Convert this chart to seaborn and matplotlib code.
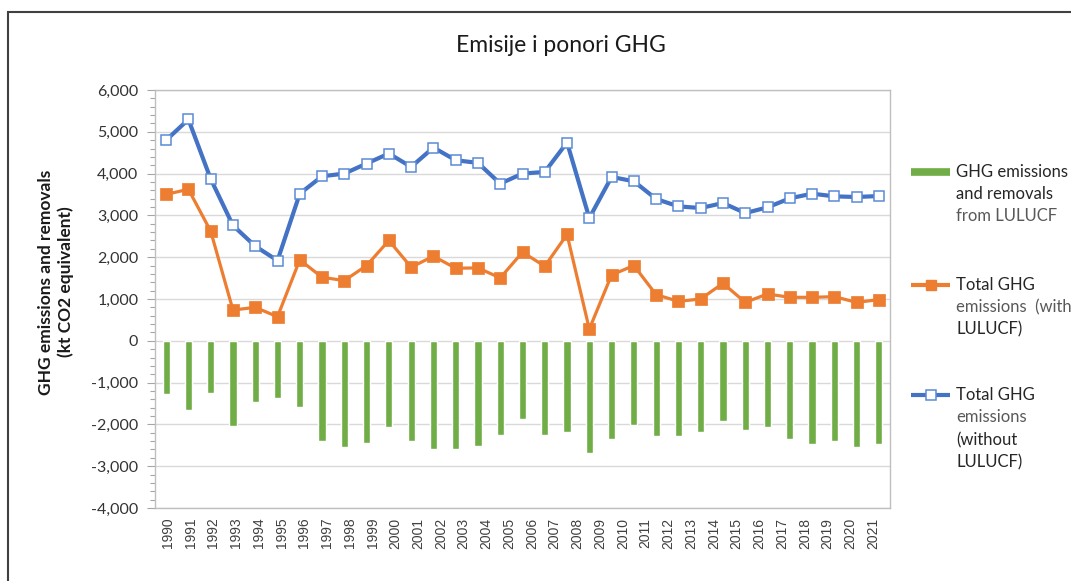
import numpy as np
import pandas as pd
import matplotlib
matplotlib.use("Agg")
import matplotlib.pyplot as plt
import seaborn as sns
from matplotlib.ticker import FuncFormatter, MultipleLocator, AutoMinorLocator
from matplotlib.lines import Line2D
from matplotlib.patches import Rectangle

years = [str(y) for y in range(1990, 2023)]
lulucf = [-1280, -1664, -1256, -2032, -1472, -1360, -1592, -2400, -2552, -2440,
          -2072, -2408, -2600, -2600, -2520, -2256, -1872, -2248, -2192, -2680,
          -2352, -2008, -2280, -2280, -2176, -1928, -2136, -2072, -2352, -2480,
          -2400, -2544, -2472]
total_with = [3504, 3624, 2624, 736, 800, 576, 1936, 1520, 1440, 1800,
              2400, 1760, 2024, 1736, 1744, 1504, 2120, 1784, 2544, 280,
              1576, 1800, 1104, 944, 1000, 1376, 920, 1120, 1040, 1040,
              1056, 920, 984]
total_without = [4800, 5296, 3872, 2760, 2264, 1920, 3520, 3936, 4000, 4240,
                 4480, 4160, 4624, 4320, 4256, 3760, 4000, 4040, 4744, 2936,
                 3920, 3816, 3392, 3216, 3176, 3296, 3056, 3192, 3408, 3520,
                 3456, 3440, 3464]
tick_labels = years[:-1]   # the 2022 label is cut off in the original

title = "Emisije i ponori GHG"
ylabel = "GHG emissions and removals\n(kt CO2 equivalent)"

GREEN = "#70AD47"
ORANGE = "#ED7D31"
BLUE = "#4472C4"

sns.set_theme(style="white")
plt.rcParams['font.family'] = ['Lato', 'DejaVu Sans']

W, H = 1071, 581
fig = plt.figure(figsize=(W / 100, H / 100), dpi=100)
ax = fig.add_axes([155 / W, 1 - 508 / H, (890 - 155) / W, (508 - 90) / H])

df = pd.DataFrame({"year": years, "lulucf": lulucf,
                   "with": total_with, "without": total_without})

sns.barplot(data=df, x="year", y="lulucf", color=GREEN, saturation=1,
            width=0.32, ax=ax, zorder=2)
sns.pointplot(data=df, x="year", y="with", color=ORANGE, markers="s",
              errorbar=None, ax=ax, linewidth=2.3, markersize=8,
              markeredgecolor=ORANGE, markeredgewidth=0.5, zorder=4)
sns.pointplot(data=df, x="year", y="without", color=BLUE, markers="s",
              errorbar=None, ax=ax, linewidth=3.0, markersize=7.2,
              markerfacecolor="white", markeredgecolor="#5B8BD6",
              markeredgewidth=1.1, zorder=5)

ax.set_ylim(-4000, 6000)
ax.set_xlim(-0.5, len(years) - 0.5)
ax.yaxis.set_major_locator(MultipleLocator(1000))
ax.yaxis.set_minor_locator(AutoMinorLocator(5))
ax.yaxis.set_major_formatter(FuncFormatter(lambda v, p: f"{v:,.0f}"))
ax.grid(axis="y", which="major", color="#D9D9D9", linewidth=1.0, zorder=0)
ax.set_axisbelow(True)
for s in ax.spines.values():
    s.set_color("#BFBFBF")
    s.set_linewidth(1.0)
ax.tick_params(axis="y", which="major", left=True, length=6, width=0.8,
               color="#A6A6A6", pad=6, labelsize=11.5, labelcolor="#333333")
ax.tick_params(axis="y", which="minor", left=True, length=3.5, width=0.8,
               color="#A6A6A6")
ax.tick_params(axis="x", length=0, pad=7)
# the original's category labels are spread slightly wider than its bars
ax.set_xticks(np.linspace(0.08, 31.74, len(tick_labels)))
ax.set_xticklabels(tick_labels, rotation=90, fontsize=10,
                   family="Liberation Sans", color="#404040")
ax.set_xlabel("")
ax.set_ylabel("")

fig.text(56 / W, 1 - 282 / H, ylabel, rotation=90, ha="center", va="center",
         fontsize=12.5, fontweight="bold", color="#1a1a1a", linespacing=1.2)
fig.text(561 / W, 1 - 46 / H, title, ha="center", va="center",
         fontsize=16.5, color="#1a1a1a")

# figure frame
fig.add_artist(Rectangle((8 / W, -0.2), 1.5, 1 - 12 / H + 0.2,
                         transform=fig.transFigure, fill=False,
                         edgecolor="#404040", linewidth=1.5))

# legend (manual)
def key(y, line_color, marker=None, lw=3, **kw):
    fig.add_artist(Line2D([911 / W, 950 / W], [1 - y / H, 1 - y / H],
                          transform=fig.transFigure, color=line_color, lw=lw,
                          solid_capstyle="butt"))
    if marker:
        fig.add_artist(Line2D([930.5 / W], [1 - y / H], transform=fig.transFigure,
                              marker=marker, linestyle="none", **kw))

key(172, GREEN, lw=5.5)
key(285, ORANGE, marker="s", lw=3, markersize=7.5, color=ORANGE)
key(395, BLUE, marker="s", lw=3, markersize=7, markerfacecolor="white",
    markeredgecolor="#5B8BD6", markeredgewidth=1.1)

leg_lines = [
    (172, "GHG emissions", "#262626"), (194, "and removals", "#262626"),
    (216, "from LULUCF", "#595959"),
    (285, "Total GHG", "#262626"), (307, "emissions  (with", "#595959"),
    (329, "LULUCF)", "#262626"),
    (395, "Total GHG", "#262626"), (417, "emissions", "#595959"),
    (440, "(without", "#262626"), (462, "LULUCF)", "#262626"),
]
for y, txt, c in leg_lines:
    fig.text(956 / W, 1 - y / H, txt, ha="left", va="center", fontsize=12,
             color=c)

fig.savefig("out.png", dpi=100)
